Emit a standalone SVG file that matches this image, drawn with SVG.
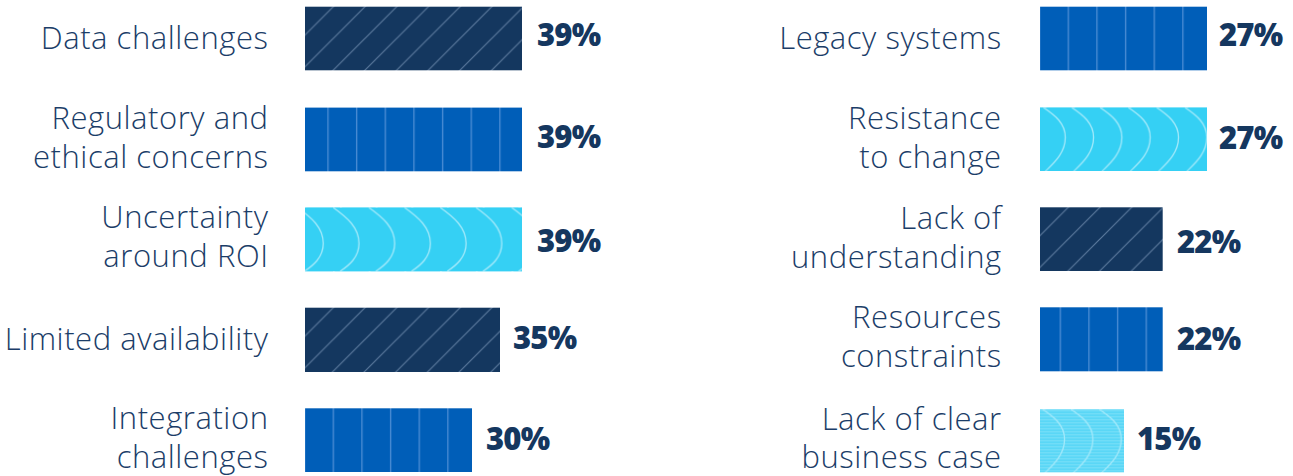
<svg xmlns="http://www.w3.org/2000/svg" width="1293" height="476" viewBox="0 0 1293 476">
<style>
.lbl{font-family:"Open Sans","Liberation Sans",sans-serif;font-weight:300;font-size:31px;letter-spacing:0.55px;fill:#1b3d68;text-anchor:end}
.pct{font-family:"Open Sans","Liberation Sans",sans-serif;font-weight:800;font-size:31px;letter-spacing:-0.8px;fill:#15375f}
.vl{stroke:#4c8dd5;stroke-width:1.3;fill:none}
.dl{stroke:#5a789c;stroke-width:1.2;fill:none}
.wl{stroke:#a3eafb;stroke-width:1.3;fill:none}
</style>
<defs>
<pattern id="diag" patternUnits="userSpaceOnUse" x="-3.4" y="0" width="31.7" height="31.7">
<rect width="31.7" height="31.7" fill="#14375f"/>
<path class="dl" d="M-2,33.7 L33.7,-2 M-2,2 L2,-2 M29.7,33.7 L33.7,29.7"/>
</pattern>
<pattern id="vs23" patternUnits="userSpaceOnUse" x="22.3" y="0" width="28.65" height="80">
<rect width="28.65" height="80" fill="#005eb8"/>
<path class="vl" d="M0.7,0 V80"/>
</pattern>
<pattern id="vs28" patternUnits="userSpaceOnUse" x="27.6" y="0" width="28.65" height="80">
<rect width="28.65" height="80" fill="#005eb8"/>
<path class="vl" d="M0.7,0 V80"/>
</pattern>
<pattern id="vs20" patternUnits="userSpaceOnUse" x="19.6" y="0" width="28.65" height="80">
<rect width="28.65" height="80" fill="#005eb8"/>
<path class="vl" d="M0.7,0 V80"/>
</pattern>
<pattern id="waveL" patternUnits="userSpaceOnUse" x="-7.7" y="0" width="35.7" height="64">
<rect width="35.7" height="64" fill="#35d0f4"/>
<path class="wl" d="M0,0 C14,10 26,20 26,36 C26,50 16,58 7,64"/>
</pattern>
<pattern id="waveR" patternUnits="userSpaceOnUse" x="3.3" y="0" width="28.3" height="64">
<rect width="28.3" height="64" fill="#35d0f4"/>
<path class="wl" d="M0,0 C12,8 22,16 22,30 C22,46 10,56 2,64"/>
</pattern>
<pattern id="waveS" patternUnits="userSpaceOnUse" x="2.6" y="0" width="28.3" height="64">
<rect width="28.3" height="64" fill="#5ad7f6"/>
<path d="M0,1.5 H28.3 M0,4.5 H28.3 M0,7.5 H28.3 M0,10.5 H28.3 M0,13.5 H28.3 M0,16.5 H28.3 M0,19.5 H28.3 M0,22.5 H28.3 M0,25.5 H28.3 M0,28.5 H28.3 M0,31.5 H28.3 M0,34.5 H28.3 M0,37.5 H28.3 M0,40.5 H28.3 M0,43.5 H28.3 M0,46.5 H28.3 M0,49.5 H28.3 M0,52.5 H28.3 M0,55.5 H28.3 M0,58.5 H28.3 M0,61.5 H28.3" stroke="#8fe4fa" stroke-width="1" opacity="0.6"/>
<path class="wl" d="M0,0 C12,8 22,16 22,30 C22,46 10,56 2,64"/>
</pattern>
</defs>

<g id="row-data-challenges">
<text class="lbl" x="268.5" y="49.3">Data challenges</text>
<g transform="translate(305,6.7)"><rect width="217" height="63.6" fill="url(#diag)"/></g>
<text class="pct" x="537" y="46">39%</text>
</g>
<g id="row-regulatory">
<text class="lbl" x="268.5" y="129.3">Regulatory and</text>
<text class="lbl" x="268.5" y="168.3">ethical concerns</text>
<g transform="translate(305,107.6)"><rect width="217" height="63.7" fill="url(#vs23)"/></g>
<text class="pct" x="537" y="147.7">39%</text>
</g>
<g id="row-uncertainty">
<text class="lbl" x="268.5" y="228.3">Uncertainty</text>
<text class="lbl" x="268.5" y="266.7">around ROI</text>
<g transform="translate(305,207.4)"><rect width="217" height="64" fill="url(#waveL)"/></g>
<text class="pct" x="537" y="252.3">39%</text>
</g>
<g id="row-limited">
<text class="lbl" x="268.5" y="350">Limited availability</text>
<g transform="translate(305,307.7)"><rect width="195" height="64.3" fill="url(#diag)"/></g>
<text class="pct" x="513" y="349">35%</text>
</g>
<g id="row-integration">
<text class="lbl" x="268.5" y="429.3">Integration</text>
<text class="lbl" x="268.5" y="468.3">challenges</text>
<g transform="translate(305,408.3)"><rect width="167" height="63.7" fill="url(#vs28)"/></g>
<text class="pct" x="486" y="450">30%</text>
</g>

<g id="row-legacy">
<text class="lbl" x="1001.7" y="49.3">Legacy systems</text>
<g transform="translate(1040,6.7)"><rect width="167" height="63.6" fill="url(#vs28)"/></g>
<text class="pct" x="1219" y="46">27%</text>
</g>
<g id="row-resistance">
<text class="lbl" x="1001.7" y="129.3">Resistance</text>
<text class="lbl" x="1001.7" y="168.3">to change</text>
<g transform="translate(1040,107.4)"><rect width="167" height="63.6" fill="url(#waveR)"/></g>
<text class="pct" x="1219" y="149">27%</text>
</g>
<g id="row-lack-understanding">
<text class="lbl" x="1001.7" y="229.3">Lack of</text>
<text class="lbl" x="1001.7" y="268.3">understanding</text>
<g transform="translate(1040,207.3)"><rect width="122.7" height="63.7" fill="url(#diag)"/></g>
<text class="pct" x="1177" y="253.3">22%</text>
</g>
<g id="row-resources">
<text class="lbl" x="1001.7" y="328.3">Resources</text>
<text class="lbl" x="1001.7" y="366.7">constraints</text>
<g transform="translate(1040,307.3)"><rect width="122.7" height="64" fill="url(#vs20)"/></g>
<text class="pct" x="1177" y="350">22%</text>
</g>
<g id="row-business-case">
<text class="lbl" x="1001.7" y="429.5">Lack of clear</text>
<text class="lbl" x="1001.7" y="468">business case</text>
<g transform="translate(1040,409.3)"><rect width="84" height="63" fill="url(#waveS)"/></g>
<text class="pct" x="1137" y="450">15%</text>
</g>
<g id="connectors"/>
</svg>
